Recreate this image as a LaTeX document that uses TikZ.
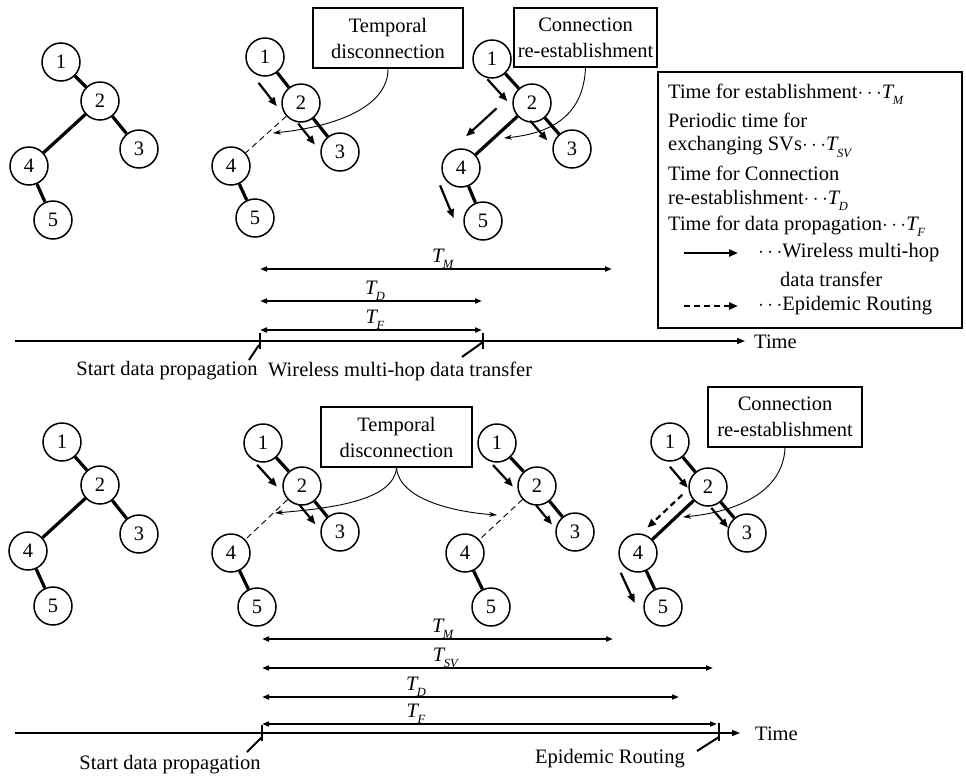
\documentclass[tikz,border=0pt]{standalone}
\usepackage{fontspec}
\setmainfont{Liberation Serif}
\usetikzlibrary{arrows.meta,calc}

% italic T with a lowered italic index
\newcommand\Tsym[1]{\textit{T}\kern-0.08em\raisebox{-0.3em}{\fontsize{12.5}{12.5}\selectfont\textit{#1}}}
\newcommand\dotsep{$\cdots$}

% a five-node tree: prefix, then the centres of nodes 1..5
\newcommand\tree[6]{%
  \node[vtx] (#1-1) at (#2) {1};
  \node[vtx] (#1-2) at (#3) {2};
  \node[vtx] (#1-3) at (#4) {3};
  \node[vtx] (#1-4) at (#5) {4};
  \node[vtx] (#1-5) at (#6) {5};
}
% arrow running beside the edge from #2 to #3, between fractions #4 and #5, offset #6
\newcommand\sidearrow[6][flow]{%
  \draw[#1] ($(#2)!#4!(#3)!#6!-90:(#3)$) -- ($(#2)!#5!(#3)!#6!-90:(#3)$);
}

\begin{document}
\begin{tikzpicture}[x=1pt,y=-1pt,
  every node/.style={font=\fontsize{20.5}{25}\selectfont,inner sep=0pt},
  vtx/.style={circle,draw,line width=1.5pt,minimum size=38pt,inner sep=0pt},
  link/.style={line width=3.2pt},
  weak/.style={line width=0.9pt,dash pattern=on 6pt off 4pt},
  flow/.style={line width=2.2pt,-{Triangle[length=9pt,width=7pt]}},
  eflow/.style={flow,dash pattern=on 6pt off 4pt},
  callout/.style={draw,line width=1.8pt,align=center,inner sep=0pt},
  pointer/.style={line width=0.9pt,-{Stealth[length=8pt,width=5pt]}},
  span/.style={line width=1.8pt,{Triangle[length=7pt,width=5pt]}-{Triangle[length=7pt,width=5pt]}},
  axis/.style={line width=1.5pt,-{Triangle[length=8pt,width=6pt]}},
  tick/.style={line width=1.2pt},
  leader/.style={line width=2pt},
]
\useasboundingbox (0,0) rectangle (966,777);

% ---------------- upper scenario: multi-hop transfer ----------------
\tree{A}{61,62}{100,101}{139,149}{29,166}{53,220}
\draw[link] (A-1) -- (A-2);
\draw[link] (A-2) -- (A-3);
\draw[link] (A-2) -- (A-4);
\draw[link] (A-4) -- (A-5);

\tree{B}{265,57}{301,103}{340,152}{231,166}{255,218}
\draw[link] (B-1) -- (B-2);
\draw[link] (B-2) -- (B-3);
\draw[weak] (B-2) -- (B-4);
\draw[link] (B-4) -- (B-5);
\sidearrow{B-1}{B-2}{.28}{.79}{21pt}
\sidearrow{B-2}{B-3}{.23}{.66}{15pt}

\tree{C}{492,59}{532,103}{572,149}{461,168}{483,221}
\draw[link] (C-1) -- (C-2);
\draw[link] (C-2) -- (C-3);
\draw[link] (C-2) -- (C-4);
\draw[link] (C-4) -- (C-5);
\sidearrow{C-1}{C-2}{.2}{.7}{17pt}
\sidearrow{C-2}{C-4}{.31}{.74}{20pt}
\sidearrow{C-2}{C-3}{.2}{.63}{13pt}
\sidearrow{C-4}{C-5}{.14}{.76}{26pt}

\node[callout,minimum width=150pt,minimum height=60pt] (tbox1) at (388,38) {Temporal\\[1pt]disconnection};
\node[callout,minimum width=143pt,minimum height=59pt] (cbox1) at (585.5,37.5) {Connection\\[1pt]re-establishment};
\coordinate (p1) at (273,133);
\coordinate (p2) at (504,138);
\draw[pointer] (tbox1.south) .. controls +(0,42) and (325,128) .. (p1);
\draw[pointer] (cbox1.south) .. controls +(-2,45) and (555,133) .. (p2);

% legend
\node[draw,line width=1.3pt,minimum width=304pt,minimum height=256pt] (legend) at (810,200) {};
\node[anchor=west] (lg1) at (668,94) {Time for establishment\dotsep\Tsym{M}};
\node[anchor=west] (lg2) at (668,120.5) {Periodic time for};
\node[anchor=west] (lg3) at (668,147) {exchanging SVs\dotsep\Tsym{SV}};
\node[anchor=west] (lg4) at (668,173.5) {Time for Connection};
\node[anchor=west] (lg5) at (668,200) {re-establishment\dotsep\Tsym{D}};
\node[anchor=west] (lg6) at (668,226.5) {Time for data propagation\dotsep\Tsym{F}};
\node[anchor=west] (lg7) at (758,253) {\dotsep Wireless multi-hop};
\node[anchor=west] (lg8) at (780,279.5) {data transfer};
\node[anchor=west] (lg9) at (758,306) {\dotsep Epidemic Routing};
\coordinate (la1) at (684,253);
\coordinate (la2) at (738,253);
\coordinate (le1) at (684,306);
\coordinate (le2) at (738,306);
\draw[flow] (la1) -- (la2);
\draw[eflow] (le1) -- (le2);

% time axis
\coordinate (ax1s) at (15,341);
\coordinate (ax1e) at (745,341);
\draw[axis] (ax1s) -- (ax1e);
\node[anchor=west] (time1) at (754,342) {Time};
\draw[tick] (260,333) -- (260,349);
\draw[tick] (483,333) -- (483,349);
\draw[leader] (259,345) -- (249,360);
\draw[leader] (483,342) -- (462,357);
\node (start1) at (167,371) {Start data propagation};
\node[anchor=west] (wmh) at (268,371) {Wireless multi-hop data transfer};

\coordinate (m1a) at (260,269); \coordinate (m1b) at (612,269);
\coordinate (d1a) at (260,301); \coordinate (d1b) at (482,301);
\coordinate (f1a) at (260,330); \coordinate (f1b) at (482,330);
\draw[span] (m1a) -- (m1b);
\draw[span] (d1a) -- (d1b);
\draw[span] (f1a) -- (f1b);
\node[anchor=base] (tm1) at (443,262) {\Tsym{M}};
\node[anchor=base] (td1) at (375,294) {\Tsym{D}};
\node[anchor=base] (tf1) at (375,323) {\Tsym{F}};

% ---------------- lower scenario: epidemic routing ----------------
\tree{D}{62,442}{100,485}{139,534}{28,551}{53,606}
\draw[link] (D-1) -- (D-2);
\draw[link] (D-2) -- (D-3);
\draw[link] (D-2) -- (D-4);
\draw[link] (D-4) -- (D-5);

\tree{E}{263,443}{302,486}{340,532}{231,553}{257,607}
\draw[link] (E-1) -- (E-2);
\draw[link] (E-2) -- (E-3);
\draw[weak] (E-2) -- (E-4);
\draw[link] (E-4) -- (E-5);
\sidearrow{E-1}{E-2}{.21}{.72}{19pt}
\sidearrow{E-2}{E-3}{.21}{.64}{14pt}

\tree{F}{497,443}{537,486}{575,532}{465,553}{491,607}
\draw[link] (F-1) -- (F-2);
\draw[link] (F-2) -- (F-3);
\draw[weak] (F-2) -- (F-4);
\draw[link] (F-4) -- (F-5);
\sidearrow{F-1}{F-2}{.23}{.73}{18pt}
\sidearrow{F-2}{F-3}{.24}{.66}{13pt}

\tree{G}{670,442}{708,487}{747,533}{638,553}{663,607}
\draw[link] (G-1) -- (G-2);
\draw[link] (G-2) -- (G-3);
\draw[link] (G-2) -- (G-4);
\draw[link] (G-4) -- (G-5);
\sidearrow{G-1}{G-2}{.32}{.79}{16pt}
\sidearrow[eflow]{G-2}{G-4}{.25}{.75}{12pt}
\sidearrow{G-2}{G-3}{.3}{.73}{11pt}
\sidearrow{G-4}{G-5}{.18}{.74}{24pt}

\node[callout,minimum width=151pt,minimum height=60pt] (tbox2) at (396.5,437) {Temporal\\[1pt]disconnection};
\node[callout,minimum width=154pt,minimum height=60pt] (cbox2) at (785,417) {Connection\\[1pt]re-establishment};
\coordinate (p3) at (275,513);
\coordinate (p4) at (497,515);
\coordinate (p5) at (683,517);
\draw[pointer] (tbox2.south) .. controls +(-3,32) and (335,508) .. (p3);
\draw[pointer] (tbox2.south) .. controls +(3,32) and (455,512) .. (p4);
\draw[pointer] (cbox2.south) .. controls +(-2,45) and (735,512) .. (p5);

% time axis
\coordinate (ax2s) at (15,733);
\coordinate (ax2e) at (740,733);
\draw[axis] (ax2s) -- (ax2e);
\node[anchor=west] (time2) at (755,734) {Time};
\draw[tick] (262,725) -- (262,741);
\draw[tick] (719,723) -- (719,741);
\draw[leader] (262,737) -- (247,752);
\draw[leader] (719,737) -- (697,751);
\node (start2) at (170,765) {Start data propagation};
\node (epi) at (610,759) {Epidemic Routing};

\coordinate (m2a) at (262,639); \coordinate (m2b) at (613,639);
\coordinate (s2a) at (262,668); \coordinate (s2b) at (713,668);
\coordinate (d2a) at (262,697); \coordinate (d2b) at (679,697);
\coordinate (f2a) at (262,724); \coordinate (f2b) at (717,724);
\draw[span] (m2a) -- (m2b);
\draw[span] (s2a) -- (s2b);
\draw[span] (d2a) -- (d2b);
\draw[span] (f2a) -- (f2b);
\node[anchor=base] (tm2) at (443,632) {\Tsym{M}};
\node[anchor=base] (ts2) at (446,661) {\Tsym{SV}};
\node[anchor=base] (td2) at (416,690) {\Tsym{D}};
\node[anchor=base] (tf2) at (416,717) {\Tsym{F}};
\end{tikzpicture}
\end{document}
